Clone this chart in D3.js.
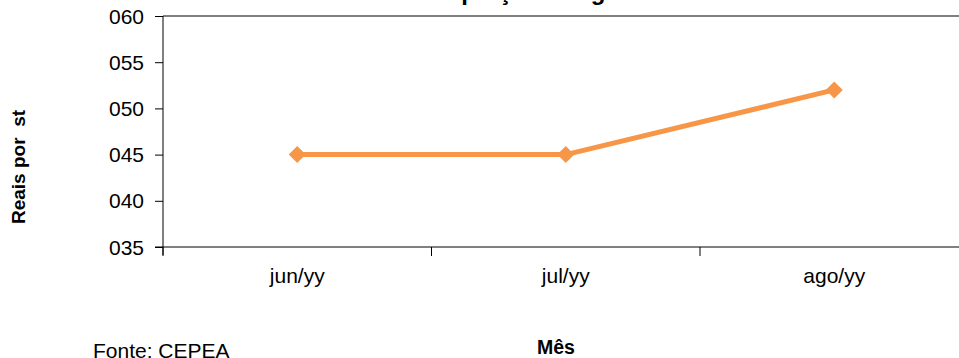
<!DOCTYPE html>
<html>
<head>
<meta charset="utf-8">
<script src="https://cdn.jsdelivr.net/npm/d3@7"></script>
<style>
  html, body { margin: 0; padding: 0; background: #fff; }
  svg { display: block; font-family: "Liberation Sans", Arial, sans-serif; }
</style>
</head>
<body>
<svg id="chart" width="959" height="358"></svg>
<script>
// Monthly price series (R$ per stere)
const months = ["jun/yy", "jul/yy", "ago/yy"];
const prices = [45, 45, 52];
const yTicks = [35, 40, 45, 50, 55, 60];

const titleLines = ["Evolução mensal", "do preço na região de Sorocaba"];
const yLabel = "Reais por  st";
const xLabel = "Mês";
const sourceText = "Fonte: CEPEA";

const svg = d3.select("#chart");
const plot = { left: 163, top: 16, right: 968.5, bottom: 247 };
const orange = "#F79646";
const font = "'Liberation Sans', Arial, sans-serif";

const x = d3.scaleBand().domain(months).range([plot.left, plot.right]).paddingInner(0).paddingOuter(0);
const y = d3.scaleLinear().domain([35, 60]).range([plot.bottom, plot.top]);

// Frame: top border line
svg.append("line")
  .attr("x1", plot.left).attr("x2", plot.right)
  .attr("y1", plot.top).attr("y2", plot.top)
  .attr("stroke", "#000").attr("stroke-width", 1);

// Y axis
const yAxis = d3.axisLeft(y).tickValues(yTicks)
  .tickFormat(d => d3.format("03d")(d)).tickSize(8).tickPadding(11);
const gy = svg.append("g").attr("transform", `translate(${plot.left},0)`).call(yAxis);
gy.select(".domain").attr("d", `M0,${plot.top}V${plot.bottom + 8}`).attr("stroke", "#000");
gy.selectAll(".tick line").attr("stroke", "#000");
gy.selectAll(".tick text").attr("font-size", 21).attr("fill", "#000")
  .attr("font-family", font).attr("dy", "0.34em");

// X axis: ticks at category boundaries
const gx = svg.append("g").attr("transform", `translate(0,${plot.bottom})`);
gx.append("line").attr("x1", plot.left - 8).attr("x2", plot.right)
  .attr("y1", 0).attr("y2", 0).attr("stroke", "#000");
const bounds = months.map(m => x(m)).concat([plot.right]);
gx.selectAll("line.tick").data(bounds).join("line").attr("class", "tick")
  .attr("x1", d => d).attr("x2", d => d).attr("y1", 0).attr("y2", 9)
  .attr("stroke", "#000");
gx.selectAll("text").data(months).join("text")
  .attr("x", d => x(d) + x.bandwidth() / 2)
  .attr("y", 36)
  .attr("text-anchor", "middle")
  .attr("font-size", 21)
  .attr("font-family", font)
  .attr("fill", "#000")
  .text(d => d);

// Line series
const cx = d => x(d) + x.bandwidth() / 2;
const line = d3.line().x((d, i) => cx(months[i])).y(d => y(d));
svg.append("path").datum(prices)
  .attr("d", line).attr("fill", "none")
  .attr("stroke", orange).attr("stroke-width", 5).attr("stroke-linejoin", "round");

// Diamond markers
svg.selectAll("path.marker").data(prices).join("path").attr("class", "marker")
  .attr("d", d3.symbol().type(d3.symbolSquare).size(144))
  .attr("transform", (d, i) => `translate(${cx(months[i])},${y(d)}) rotate(45)`)
  .attr("fill", orange);

// Two-line title, positioned so that it runs off the top edge
svg.append("text")
  .attr("text-anchor", "middle")
  .attr("font-size", 24).attr("font-weight", "bold")
  .selectAll("tspan").data(titleLines).join("tspan")
  .attr("x", 608)
  .attr("y", (d, i) => 0 - (titleLines.length - 1 - i) * 28)
  .text(d => d);

// Axis titles
svg.append("text")
  .attr("transform", "translate(25,167) rotate(-90)")
  .attr("text-anchor", "middle")
  .attr("font-size", 19).attr("font-weight", "bold")
  .attr("xml:space", "preserve")
  .style("white-space", "pre")
  .text(yLabel);

svg.append("text")
  .attr("x", 556).attr("y", 354)
  .attr("text-anchor", "middle")
  .attr("font-size", 19.5).attr("font-weight", "bold")
  .text(xLabel);

svg.append("text")
  .attr("x", 93).attr("y", 358)
  .attr("font-size", 21)
  .text(sourceText);
</script>
</body>
</html>
